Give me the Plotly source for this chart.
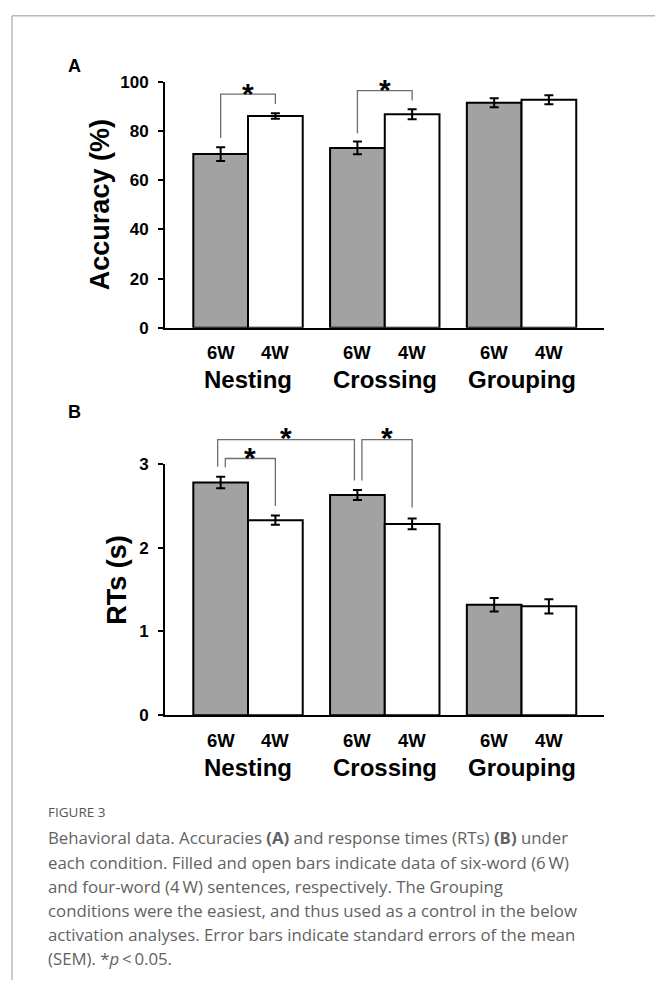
import plotly.graph_objects as go

W, H = 655, 990

# ---------------- data ----------------
groups = ["Nesting", "Crossing", "Grouping"]
conditions = ["6W", "4W"]
acc_6w = [70.7, 73.2, 91.6]
acc_6w_sem = [2.8, 2.6, 1.8]
acc_4w = [86.2, 86.9, 92.8]
acc_4w_sem = [1.1, 2.0, 1.8]
rt_6w = [2.78, 2.63, 1.32]
rt_6w_sem = [0.07, 0.06, 0.08]
rt_4w = [2.33, 2.285, 1.30]
rt_4w_sem = [0.055, 0.065, 0.085]
acc_ticks = [0, 20, 40, 60, 80, 100]
rt_ticks = [0, 1, 2, 3]

# significance brackets: (left group, left offset, right group, right offset, top, left bottom, right bottom)
acc_brackets = [(0, -0.2, 0, 0.2, 95.1, 77.2, 91.1),
                (1, -0.2, 1, 0.2, 96.5, 79.2, 92.5)]
acc_stars = [(0, 0.0, 98.3), (1, 0.0, 99.8)]
rt_brackets = [(0, -0.166, 0, 0.2, 3.067, 2.961, 2.50),
               (0, -0.222, 1, -0.222, 3.293, 2.968, 2.804),
               (1, -0.167, 1, 0.2, 3.293, 2.804, 2.481)]
rt_stars = [(0, 0.015, 3.164), (0, 0.275, 3.398), (1, 0.016, 3.398)]

caption_title = "FIGURE 3"
caption_lines = [
    "Behavioral data. Accuracies <b>(A)</b> and response times (RTs) <b>(B)</b> under",
    "each condition. Filled and open bars indicate data of six-word (6\u2009W)",
    "and four-word (4\u2009W) sentences, respectively. The Grouping",
    "conditions were the easiest, and thus used as a control in the below",
    "activation analyses. Error bars indicate standard errors of the mean",
    "(SEM). *<i>p</i>\u2009&lt;\u20090.05.",
]

# ---------------- styling ----------------
GRAY = "#a2a2a2"
BOLD = "Liberation Sans, Arial, sans-serif"
CAP_FONT = "Open Sans, Noto Sans, sans-serif"
x_idx = list(range(len(groups)))

def py(y):
    return 1 - y / H

xdom = [165 / W, 604 / W]
panels = [
    dict(xa="x", ya="y", dom=[py(325), py(74.5)], v6=acc_6w, e6=acc_6w_sem,
         v4=acc_4w, e4=acc_4w_sem, ticks=acc_ticks, ymax=100,
         brackets=acc_brackets, stars=acc_stars, title="Accuracy (%)",
         title_x=100, title_y=200, letter="A", letter_xy=(74, 58)),
    dict(xa="x2", ya="y2", dom=[py(720), py(464)], v6=rt_6w, e6=rt_6w_sem,
         v4=rt_4w, e4=rt_4w_sem, ticks=rt_ticks, ymax=3,
         brackets=rt_brackets, stars=rt_stars, title="RTs (s)",
         title_x=117, title_y=582, letter="B", letter_xy=(74, 411)),
]

fig = go.Figure()
shapes = []
annotations = []

for i, p in enumerate(panels):
    for vals, errs, color, name in [(p["v6"], p["e6"], GRAY, conditions[0]),
                                    (p["v4"], p["e4"], "white", conditions[1])]:
        fig.add_trace(go.Bar(
            x=x_idx, y=vals, name=name, xaxis=p["xa"], yaxis=p["ya"],
            marker=dict(color=color, line=dict(color="black", width=2)),
            error_y=dict(type="data", array=errs, color="black", thickness=2, width=4.5),
            showlegend=False, hoverinfo="skip",
        ))
    suffix = "" if i == 0 else "2"
    fig.update_layout(**{
        "xaxis" + suffix: dict(domain=xdom, range=[-0.607, 2.603], anchor="y" + suffix,
                               showline=True, linecolor="black", linewidth=2,
                               showticklabels=False, ticks="", showgrid=False,
                               zeroline=False, fixedrange=True),
        "yaxis" + suffix: dict(domain=p["dom"], range=[0, p["ymax"]], anchor="x" + suffix,
                               tickvals=p["ticks"], ticks="outside", ticklen=5,
                               tickwidth=2, tickcolor="black",
                               showline=True, linecolor="black", linewidth=2,
                               showgrid=False, zeroline=False, fixedrange=True,
                               ticklabelstandoff=6,
                               tickfont=dict(family=BOLD, size=17, color="black", weight="bold")),
    })
    ydref = p["ya"] + " domain"
    # brackets
    for (gl, ol, gr, orr, top, lb, rb) in p["brackets"]:
        xl, xr = gl + ol, gr + orr
        ym = p["ymax"]
        shapes.append(dict(type="path", xref=p["xa"], yref=ydref,
                           path=f"M {xl},{lb/ym} L {xl},{top/ym} L {xr},{top/ym} L {xr},{rb/ym}",
                           line=dict(color="#6e6e6e", width=1.3)))
    for (g, o, yv) in p["stars"]:
        annotations.append(dict(x=g + o, y=yv / p["ymax"], xref=p["xa"], yref=ydref,
                                text="*", showarrow=False, yanchor="middle", yshift=-7,
                                font=dict(family=BOLD, size=30, color="black", weight="bold")))
    # category labels
    for g in x_idx:
        for off, lab in [(-0.2, conditions[0]), (0.2, conditions[1])]:
            annotations.append(dict(x=g + off, y=0, xref=p["xa"], yref=ydref, text=lab,
                                    showarrow=False, yanchor="middle", yshift=-25,
                                    font=dict(family=BOLD, size=18.5, color="black", weight="bold")))
        annotations.append(dict(x=g, y=0, xref=p["xa"], yref=ydref, text=groups[g],
                                showarrow=False, yanchor="middle", yshift=-52,
                                font=dict(family=BOLD, size=24, color="black", weight="bold")))
    # axis title
    annotations.append(dict(x=p["title_x"] / W, y=py(p["title_y"]), xref="paper", yref="paper",
                            text=p["title"], textangle=-90, showarrow=False,
                            xanchor="center", yanchor="middle",
                            font=dict(family=BOLD, size=27, color="black", weight="bold")))
    # panel letter
    annotations.append(dict(x=p["letter_xy"][0] / W, y=py(p["letter_xy"][1]), xref="paper",
                            yref="paper", text=p["letter"], showarrow=False,
                            xanchor="center", yanchor="middle",
                            font=dict(family=BOLD, size=18, color="black", weight="bold")))

# caption
annotations.append(dict(x=46 / W, y=py(819), xref="paper", yref="paper", text=caption_title,
                        showarrow=False, xanchor="left", yanchor="middle",
                        font=dict(family=CAP_FONT, size=13.5, color="#555555")))
cap_y = [845, 870, 894.5, 919, 944, 968.5]
for yy, line in zip(cap_y, caption_lines):
    annotations.append(dict(x=46 / W, y=py(yy), xref="paper", yref="paper", text=line,
                            showarrow=False, xanchor="left", yanchor="middle",
                            font=dict(family=CAP_FONT, size=16.8, color="#626262")))

# frame lines
shapes.append(dict(type="line", xref="paper", yref="paper", x0=12 / W, x1=1, y0=py(7), y1=py(7),
                   line=dict(color="#b8b8b8", width=1.5)))
shapes.append(dict(type="line", xref="paper", yref="paper", x0=12 / W, x1=12 / W, y0=py(7), y1=0,
                   line=dict(color="#b8b8b8", width=1.5)))

fig.update_layout(
    width=W, height=H, margin=dict(l=0, r=0, t=0, b=0),
    barmode="group", bargap=0.2, bargroupgap=0,
    paper_bgcolor="white", plot_bgcolor="white", hovermode=False,
    shapes=shapes, annotations=annotations, showlegend=False,
)

fig.write_html(
    "out.html",
    config={"displayModeBar": False, "staticPlot": True},
    post_script="document.body.style.margin='0';document.body.style.overflow='hidden';",
)
